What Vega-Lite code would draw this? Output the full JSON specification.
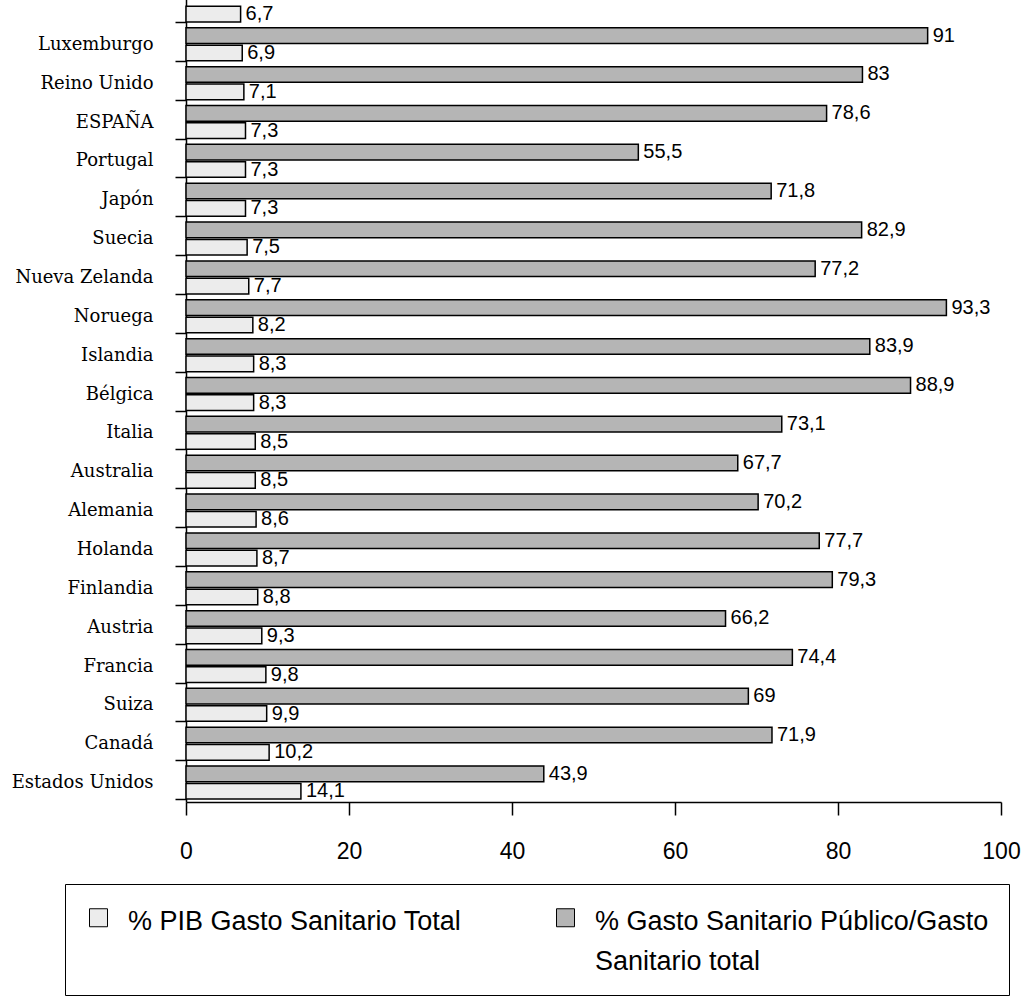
{
  "$schema": "https://vega.github.io/schema/vega-lite/v6.json",
  "width": 815,
  "height": 816,
  "autosize": {"type": "none"},
  "padding": {"left": 186, "top": -14, "right": 20, "bottom": 196},
  "background": "white",
  "config": {
    "view": {"stroke": null},
    "locale": {"number": {"decimal": ",", "thousands": ".", "grouping": [3], "currency": ["", " €"]}}
  },
  "data": {"values": [
    {"pais": "", "serie": "% PIB Gasto Sanitario Total", "valor": 6.7},
    {"pais": "Luxemburgo", "serie": "% Gasto Sanitario Público/Gasto Sanitario total", "valor": 91},
    {"pais": "Luxemburgo", "serie": "% PIB Gasto Sanitario Total", "valor": 6.9},
    {"pais": "Reino Unido", "serie": "% Gasto Sanitario Público/Gasto Sanitario total", "valor": 83},
    {"pais": "Reino Unido", "serie": "% PIB Gasto Sanitario Total", "valor": 7.1},
    {"pais": "ESPAÑA", "serie": "% Gasto Sanitario Público/Gasto Sanitario total", "valor": 78.6},
    {"pais": "ESPAÑA", "serie": "% PIB Gasto Sanitario Total", "valor": 7.3},
    {"pais": "Portugal", "serie": "% Gasto Sanitario Público/Gasto Sanitario total", "valor": 55.5},
    {"pais": "Portugal", "serie": "% PIB Gasto Sanitario Total", "valor": 7.3},
    {"pais": "Japón", "serie": "% Gasto Sanitario Público/Gasto Sanitario total", "valor": 71.8},
    {"pais": "Japón", "serie": "% PIB Gasto Sanitario Total", "valor": 7.3},
    {"pais": "Suecia", "serie": "% Gasto Sanitario Público/Gasto Sanitario total", "valor": 82.9},
    {"pais": "Suecia", "serie": "% PIB Gasto Sanitario Total", "valor": 7.5},
    {"pais": "Nueva Zelanda", "serie": "% Gasto Sanitario Público/Gasto Sanitario total", "valor": 77.2},
    {"pais": "Nueva Zelanda", "serie": "% PIB Gasto Sanitario Total", "valor": 7.7},
    {"pais": "Noruega", "serie": "% Gasto Sanitario Público/Gasto Sanitario total", "valor": 93.3},
    {"pais": "Noruega", "serie": "% PIB Gasto Sanitario Total", "valor": 8.2},
    {"pais": "Islandia", "serie": "% Gasto Sanitario Público/Gasto Sanitario total", "valor": 83.9},
    {"pais": "Islandia", "serie": "% PIB Gasto Sanitario Total", "valor": 8.3},
    {"pais": "Bélgica", "serie": "% Gasto Sanitario Público/Gasto Sanitario total", "valor": 88.9},
    {"pais": "Bélgica", "serie": "% PIB Gasto Sanitario Total", "valor": 8.3},
    {"pais": "Italia", "serie": "% Gasto Sanitario Público/Gasto Sanitario total", "valor": 73.1},
    {"pais": "Italia", "serie": "% PIB Gasto Sanitario Total", "valor": 8.5},
    {"pais": "Australia", "serie": "% Gasto Sanitario Público/Gasto Sanitario total", "valor": 67.7},
    {"pais": "Australia", "serie": "% PIB Gasto Sanitario Total", "valor": 8.5},
    {"pais": "Alemania", "serie": "% Gasto Sanitario Público/Gasto Sanitario total", "valor": 70.2},
    {"pais": "Alemania", "serie": "% PIB Gasto Sanitario Total", "valor": 8.6},
    {"pais": "Holanda", "serie": "% Gasto Sanitario Público/Gasto Sanitario total", "valor": 77.7},
    {"pais": "Holanda", "serie": "% PIB Gasto Sanitario Total", "valor": 8.7},
    {"pais": "Finlandia", "serie": "% Gasto Sanitario Público/Gasto Sanitario total", "valor": 79.3},
    {"pais": "Finlandia", "serie": "% PIB Gasto Sanitario Total", "valor": 8.8},
    {"pais": "Austria", "serie": "% Gasto Sanitario Público/Gasto Sanitario total", "valor": 66.2},
    {"pais": "Austria", "serie": "% PIB Gasto Sanitario Total", "valor": 9.3},
    {"pais": "Francia", "serie": "% Gasto Sanitario Público/Gasto Sanitario total", "valor": 74.4},
    {"pais": "Francia", "serie": "% PIB Gasto Sanitario Total", "valor": 9.8},
    {"pais": "Suiza", "serie": "% Gasto Sanitario Público/Gasto Sanitario total", "valor": 69},
    {"pais": "Suiza", "serie": "% PIB Gasto Sanitario Total", "valor": 9.9},
    {"pais": "Canadá", "serie": "% Gasto Sanitario Público/Gasto Sanitario total", "valor": 71.9},
    {"pais": "Canadá", "serie": "% PIB Gasto Sanitario Total", "valor": 10.2},
    {"pais": "Estados Unidos", "serie": "% Gasto Sanitario Público/Gasto Sanitario total", "valor": 43.9},
    {"pais": "Estados Unidos", "serie": "% PIB Gasto Sanitario Total", "valor": 14.1}
  ]},
  "encoding": {
    "y": {
      "field": "pais", "type": "nominal", "sort": null,
      "scale": {"paddingInner": 0.15, "paddingOuter": 0.075},
      "axis": {
        "title": null, "grid": false,
        "domainColor": "black", "domainWidth": 1.5,
        "tickColor": "black", "tickWidth": 1.5, "tickSize": 11, "tickBand": "extent",
        "labelFont": "DejaVu Serif", "labelFontSize": 18, "labelColor": "black", "labelPadding": 22
      }
    },
    "yOffset": {
      "field": "serie", "type": "nominal",
      "sort": ["% Gasto Sanitario Público/Gasto Sanitario total", "% PIB Gasto Sanitario Total"],
      "scale": {"paddingInner": 0.1}
    },
    "x": {
      "field": "valor", "type": "quantitative",
      "scale": {"domain": [0, 100], "nice": false},
      "axis": {
        "title": null, "grid": false, "values": [0, 20, 40, 60, 80, 100], "format": "d",
        "domainColor": "black", "domainWidth": 1.5,
        "tickColor": "black", "tickWidth": 1.5, "tickSize": 13,
        "labelFont": "Liberation Sans", "labelFontSize": 23, "labelColor": "black",
        "labelPadding": 25, "labelFlush": false
      }
    }
  },
  "layer": [
    {
      "mark": {"type": "bar", "stroke": "black", "strokeWidth": 1.5},
      "encoding": {
        "fill": {
          "field": "serie", "type": "nominal",
          "scale": {
            "domain": ["% PIB Gasto Sanitario Total", "% Gasto Sanitario Público/Gasto Sanitario total"],
            "range": ["#ececec", "#b5b5b5"]
          },
          "legend": {
            "orient": "none", "legendX": -121, "legendY": 898,
            "direction": "horizontal", "columns": 2, "title": null,
            "padding": 20, "strokeColor": "black",
            "symbolType": "square", "symbolSize": 324,
            "symbolStrokeColor": "black", "symbolStrokeWidth": 1,
            "labelFont": "Liberation Sans", "labelFontSize": 27, "labelColor": "black",
            "labelOffset": 16, "columnPadding": 90, "labelLimit": 700,
            "labelBaseline": "top",
            "labelExpr": "datum.label == '% Gasto Sanitario Público/Gasto Sanitario total' ? ['% Gasto Sanitario Público/Gasto', 'Sanitario total'] : [datum.label, ' ']",
            "encode": {"labels": {"update": {"lineHeight": {"value": 40}, "dy": {"value": -9}}}}
          }
        }
      }
    },
    {
      "mark": {"type": "text", "align": "left", "baseline": "middle", "dx": 5, "font": "Liberation Sans", "fontSize": 20, "color": "black"},
      "encoding": {
        "text": {"field": "valor", "type": "quantitative", "format": ".1~f"}
      }
    }
  ]
}
